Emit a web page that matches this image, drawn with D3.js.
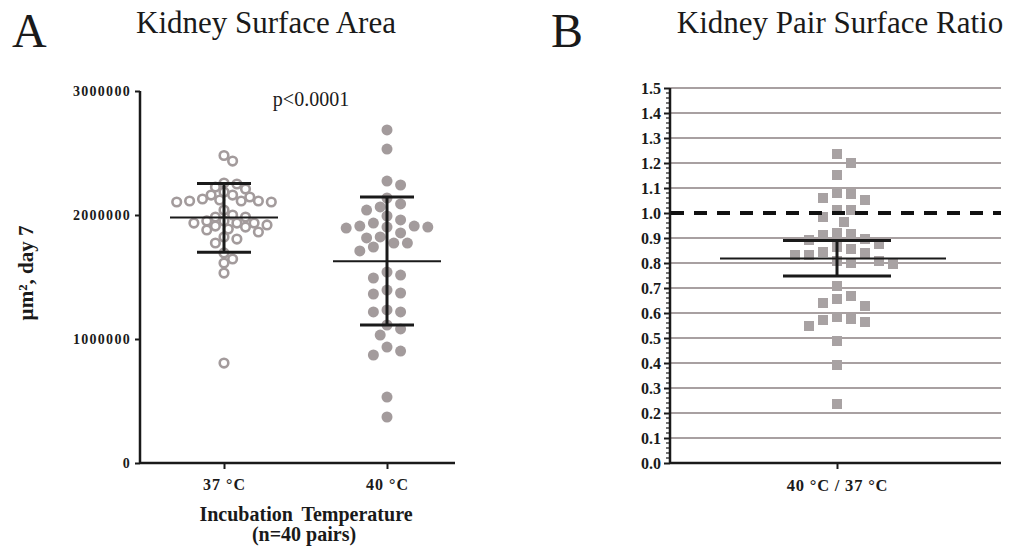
<!DOCTYPE html>
<html><head><meta charset="utf-8">
<script src="https://cdn.jsdelivr.net/npm/d3@7"></script>
<style>
body{margin:0;background:#fff;}
svg{display:block;}
text{font-family:"Liberation Serif","Times New Roman",serif;fill:#1a1a1a;}
</style></head>
<body>
<svg id="c" width="1019" height="549"></svg>
<script>
// ---- data ----
const groupsA = ["37 °C", "40 °C"];
const area37 = [2480000, 2435000, 2258000, 2226000, 2185000, 2210000, 2250000, 2161000, 2121000, 2113000,
  2113000, 2105000, 2113000, 2105000, 2129000, 2145000, 2161000, 2040000, 1935000, 1911000,
  1984000, 1952000, 1935000, 1952000, 1935000, 1984000, 2000000, 1903000, 1887000, 1863000,
  1879000, 1806000, 1823000, 1774000, 1694000, 1613000, 1645000, 1532000, 806000, 1920000];
const area40 = [2686000, 2532000, 2274000, 2242000, 2137000, 2089000, 2040000, 2065000, 1992000, 1935000,
  1911000, 1903000, 1855000, 1895000, 1903000, 1911000, 1960000, 1823000, 1774000, 1742000,
  1710000, 1774000, 1815000, 1540000, 1492000, 1516000, 1371000, 1363000, 1395000, 1234000,
  1218000, 1218000, 1081000, 1032000, 1113000, 935000, 871000, 903000, 532000, 371000];
const meansA = [1980000, 1627000];
const sdLowA = [1700000, 1113000];
const sdHighA = [2255000, 2145000];
const yTicksA = [0, 1000000, 2000000, 3000000];

const groupB = ["40 °C / 37 °C"];
const ratio = [1.236, 1.200, 1.152, 1.076, 1.080, 1.052, 1.060, 1.012, 1.012, 0.984,
  0.964, 0.916, 0.920, 0.912, 0.896, 0.892, 0.876, 0.864, 0.856, 0.844,
  0.832, 0.808, 0.796, 0.800, 0.808, 0.832, 0.840, 0.708, 0.656, 0.628,
  0.640, 0.668, 0.576, 0.564, 0.548, 0.572, 0.584, 0.488, 0.392, 0.236];
const meanB = [0.818];
const semLowB = [0.748];
const semHighB = [0.890];
const yTicksB = [0,0.1,0.2,0.3,0.4,0.5,0.6,0.7,0.8,0.9,1.0,1.1,1.2,1.3,1.4,1.5];
const refLine = [1.0];

// ---- helpers ----
const svg = d3.select("#c");
const ink = "#1a1a1a", dot = "#a39b9c";

function swarm(values, y, cx, minDist, step) {
  const pts = values.map(v => ({v, y: y(v)})).sort((a, b) => a.y - b.y);
  const placed = [];
  for (const p of pts) {
    for (let k = 0; k < 60; k++) {
      const off = k === 0 ? 0 : (k % 2 ? 1 : -1) * Math.ceil(k / 2) * step;
      const x = cx + off;
      if (placed.every(q => (q.x - x) ** 2 + (q.y - p.y) ** 2 >= minDist * minDist)) {
        p.x = x; placed.push(p); break;
      }
    }
  }
  return placed;
}

// ---- Panel A ----
const yA = d3.scaleLinear().domain([0, 3000000]).range([463, 91]);
const xA = d3.scalePoint().domain(groupsA).range([224, 387]);

const gyA = svg.append("g").attr("transform", "translate(140,0)")
  .call(d3.axisLeft(yA).tickValues(yTicksA).tickSize(5).tickPadding(4).tickFormat(d3.format("d")));
gyA.select(".domain").attr("stroke", ink).attr("stroke-width", 2.5).attr("d", "M0,91V463");
gyA.selectAll(".tick line").attr("stroke", ink).attr("stroke-width", 2);
gyA.selectAll(".tick text").style("font-size", "14px").style("font-weight", "bold").style("letter-spacing", "1.3px");

const gxA = svg.append("g").attr("transform", "translate(0,463)")
  .call(d3.axisBottom(xA).tickSize(6).tickPadding(10));
gxA.select(".domain").attr("d", "M140,0H455").attr("stroke", ink).attr("stroke-width", 2.5);
gxA.selectAll(".tick line").attr("stroke", ink).attr("stroke-width", 2);
gxA.selectAll(".tick text").style("font-size", "16px").style("font-weight", "bold").style("letter-spacing", "1px");

// points
const s37 = swarm(area37, yA, xA(groupsA[0]), 9, 4.3);
svg.append("g").selectAll("circle").data(s37).join("circle")
  .attr("cx", d => d.x).attr("cy", d => d.y).attr("r", 4.3)
  .attr("fill", "none").attr("stroke", dot).attr("stroke-width", 2.6);
const s40 = swarm(area40, yA, xA(groupsA[1]), 10.5, 6.8);
svg.append("g").selectAll("circle").data(s40).join("circle")
  .attr("cx", d => d.x).attr("cy", d => d.y).attr("r", 5.5).attr("fill", dot);

// mean & SD
const ebA = svg.append("g").attr("stroke", ink);
groupsA.forEach((g, i) => {
  const cx = xA(g);
  ebA.append("line").attr("x1", cx - 54).attr("x2", cx + 54).attr("y1", yA(meansA[i])).attr("y2", yA(meansA[i])).attr("stroke-width", 2);
  ebA.append("line").attr("x1", cx).attr("x2", cx).attr("y1", yA(sdLowA[i])).attr("y2", yA(sdHighA[i])).attr("stroke-width", 3);
  [sdLowA[i], sdHighA[i]].forEach(v => ebA.append("line").attr("x1", cx - 27).attr("x2", cx + 27).attr("y1", yA(v)).attr("y2", yA(v)).attr("stroke-width", 3));
});

svg.append("text").attr("x", 311).attr("y", 106).attr("text-anchor", "middle").style("font-size", "20px").text("p<0.0001");
svg.append("text").attr("transform", "translate(33,273) rotate(-90)").attr("text-anchor", "middle")
  .style("font-size", "21px").style("font-weight", "bold").text("µm², day 7");
svg.append("text").attr("x", 306).attr("y", 521).attr("text-anchor", "middle")
  .style("font-size", "20px").style("font-weight", "bold").style("word-spacing", "4px").text("Incubation Temperature");
svg.append("text").attr("x", 304).attr("y", 541).attr("text-anchor", "middle")
  .style("font-size", "20px").style("font-weight", "bold").text("(n=40 pairs)");
svg.append("text").attr("x", 266).attr("y", 33).attr("text-anchor", "middle").style("font-size", "31px").text("Kidney Surface Area");
svg.append("text").attr("x", 12).attr("y", 47).style("font-size", "48px").text("A");

// ---- Panel B ----
const yB = d3.scaleLinear().domain([0, 1.5]).range([463, 88]);
const xB = d3.scalePoint().domain(groupB).range([837, 837]);

// grid
svg.append("g").selectAll("line").data(yTicksB.filter(v => v > 0 && Math.abs(v - refLine[0]) > 1e-9)).join("line")
  .attr("x1", 670).attr("x2", 1001).attr("y1", d => yB(d)).attr("y2", d => yB(d))
  .attr("stroke", "#a8a0a1").attr("stroke-width", 2);

// minor ticks
const minor = d3.range(0, 1.5001, 0.02).filter(v => Math.abs(v * 10 - Math.round(v * 10)) > 1e-6);
svg.append("g").selectAll("line").data(minor).join("line")
  .attr("x1", 666).attr("x2", 670).attr("y1", d => yB(d)).attr("y2", d => yB(d))
  .attr("stroke", ink).attr("stroke-width", 1.2);

const gyB = svg.append("g").attr("transform", "translate(670,0)")
  .call(d3.axisLeft(yB).tickValues(yTicksB).tickSize(6).tickPadding(3).tickFormat(d3.format(".1f")));
gyB.select(".domain").attr("stroke", ink).attr("stroke-width", 2.5).attr("d", "M0,88V463");
gyB.selectAll(".tick line").attr("stroke", ink).attr("stroke-width", 2);
gyB.selectAll(".tick text").style("font-size", "16px").style("font-weight", "bold");

const gxB = svg.append("g").attr("transform", "translate(0,463)")
  .call(d3.axisBottom(xB).tickSize(6).tickPadding(10));
gxB.select(".domain").attr("d", "M670,0H1001").attr("stroke", ink).attr("stroke-width", 2.5);
gxB.selectAll(".tick line").attr("stroke", ink).attr("stroke-width", 2);
gxB.selectAll(".tick text").style("font-size", "16.5px").style("font-weight", "bold").style("letter-spacing", "0.8px");

// points
const sB = swarm(ratio, yB, xB(groupB[0]), 12.5, 7);
svg.append("g").selectAll("rect").data(sB).join("rect")
  .attr("x", d => d.x - 5).attr("y", d => d.y - 5).attr("width", 10).attr("height", 10).attr("fill", "#a8a2a3");

// reference dashed line
svg.append("line").attr("x1", 671).attr("x2", 1001).attr("y1", yB(refLine[0])).attr("y2", yB(refLine[0]))
  .attr("stroke", "#111").attr("stroke-width", 4).attr("stroke-dasharray", "13,10");

// mean & SEM
const cxB = xB(groupB[0]);
const ebB = svg.append("g").attr("stroke", ink);
ebB.append("line").attr("x1", cxB - 117).attr("x2", cxB + 109).attr("y1", yB(meanB[0])).attr("y2", yB(meanB[0])).attr("stroke-width", 2);
ebB.append("line").attr("x1", cxB).attr("x2", cxB).attr("y1", yB(semLowB[0])).attr("y2", yB(semHighB[0])).attr("stroke-width", 3);
[semLowB[0], semHighB[0]].forEach(v => ebB.append("line").attr("x1", cxB - 54).attr("x2", cxB + 54).attr("y1", yB(v)).attr("y2", yB(v)).attr("stroke-width", 3));

svg.append("text").attr("x", 840).attr("y", 33).attr("text-anchor", "middle").style("font-size", "31px").text("Kidney Pair Surface Ratio");
svg.append("text").attr("x", 551).attr("y", 47).style("font-size", "48px").text("B");
</script>
</body></html>
